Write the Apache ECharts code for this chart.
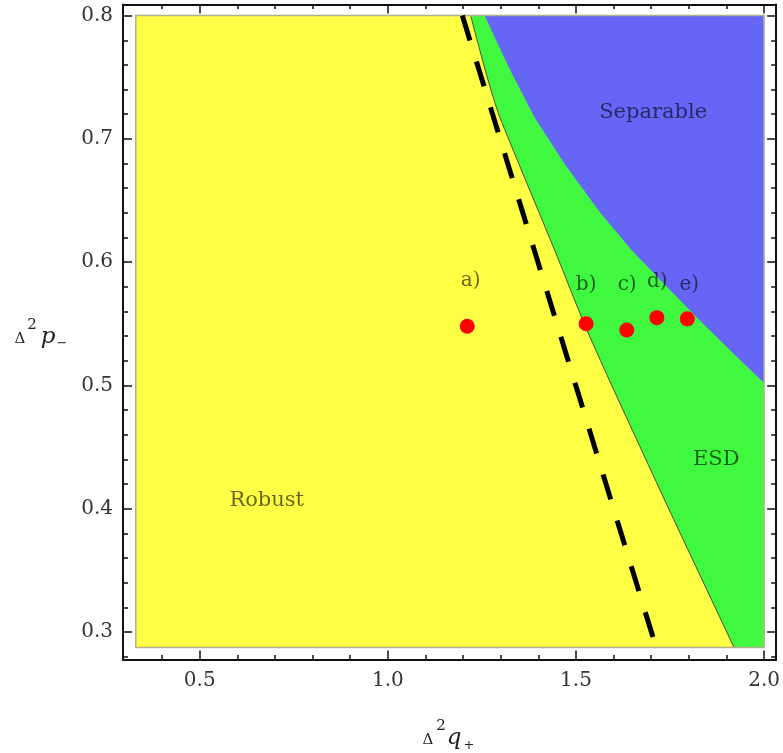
<!DOCTYPE html>
<html>
<head>
<meta charset="utf-8">
<script src="https://cdn.jsdelivr.net/npm/echarts@6/dist/echarts.min.js"></script>
<style>html,body{margin:0;padding:0;background:#fff}#c{width:783px;height:753px}</style>
</head>
<body>
<div id="c"></div>
<script>
// ---- data ----
const regionX = [0.33, 2.0];          // extent of the plotted region (x)
const regionY = [0.2875, 0.8];        // extent of the plotted region (y)
const axisX = [0.296, 2.032];         // frame extent (x)
const axisY = [0.2777, 0.809];        // frame extent (y)

// boundary between Robust (yellow) and ESD (green)
const esdBoundaryX = [1.220, 1.240, 1.265, 1.297, 1.443, 1.522, 1.589, 1.748, 1.920];
const esdBoundaryY = [0.800, 0.777, 0.749, 0.718, 0.610, 0.550, 0.504, 0.399, 0.2875];

// boundary between ESD (green) and Separable (blue)
const sepBoundaryX = [1.257, 1.323, 1.389, 1.469, 1.562, 1.647, 1.735, 1.822, 1.915, 2.000];
const sepBoundaryY = [0.800, 0.757, 0.718, 0.680, 0.641, 0.610, 0.582, 0.555, 0.527, 0.502];

// dashed line
const dashX = [1.198, 1.713];
const dashY = [0.800, 0.2875];

// red points
const pointNames = ['a)', 'b)', 'c)', 'd)', 'e)'];
const pointX = [1.211, 1.527, 1.635, 1.715, 1.796];
const pointY = [0.548, 0.550, 0.545, 0.555, 0.554];
// point label anchors
const pointLabelX = [1.220, 1.527, 1.636, 1.716, 1.801];
const pointLabelY = [0.585, 0.582, 0.5814, 0.5839, 0.5814];

// region labels
const regionNames = ['Separable', 'ESD', 'Robust'];
const regionLabelX = [1.705, 1.873, 0.678];
const regionLabelY = [0.721, 0.4395, 0.407];

// ticks
const xMajor = [0.5, 1.0, 1.5, 2.0];
const xMinor = [0.4, 0.6, 0.7, 0.8, 0.9, 1.1, 1.2, 1.3, 1.4, 1.6, 1.7, 1.8, 1.9];
const yMajor = [0.3, 0.4, 0.5, 0.6, 0.7, 0.8];
const yMinor = [0.28, 0.32, 0.34, 0.36, 0.38, 0.42, 0.44, 0.46, 0.48, 0.52, 0.54, 0.56, 0.58,
                0.62, 0.64, 0.66, 0.68, 0.72, 0.74, 0.76, 0.78];

// ---- build ----
const zip = (xs, ys) => xs.map((x, i) => [x, ys[i]]);
const yellowPoly = [[regionX[0], regionY[0]], [regionX[1], regionY[0]], [regionX[1], regionY[1]], [regionX[0], regionY[1]]];
const greenPoly = zip(esdBoundaryX, esdBoundaryY).concat([[regionX[1], regionY[0]], [regionX[1], regionY[1]]]);
const bluePoly = zip(sepBoundaryX, sepBoundaryY).concat([[regionX[1], regionY[1]]]);

const FONT = '"DejaVu Serif", serif';
const frameColor = '#111';
const labelInk = 'rgba(0,0,0,0.75)';

function polySeries(pts, fill, stroke, z) {
  return {
    type: 'custom', xAxisIndex: 0, yAxisIndex: 0, silent: true, z: z,
    data: [[regionX[0], regionY[0]]],
    renderItem: function (params, api) {
      return {
        type: 'polygon',
        shape: { points: pts.map(p => api.coord(p)) },
        style: stroke ? { fill: fill, stroke: stroke, lineWidth: 1.5 } : { fill: fill }
      };
    }
  };
}

function xAxisDef(pos, values, len, showLine, showLabel) {
  return {
    type: 'value', position: pos, min: axisX[0], max: axisX[1],
    axisLine: { show: showLine, onZero: false, lineStyle: { color: frameColor, width: 2 } },
    axisTick: { show: true, inside: true, length: len, customValues: values, lineStyle: { color: frameColor, width: 1.5 } },
    axisLabel: showLabel ? { show: true, customValues: values, margin: 11, color: '#333', fontFamily: FONT, fontSize: 20,
      formatter: v => Number(v).toFixed(1) } : { show: false },
    splitLine: { show: false }
  };
}
function yAxisDef(pos, values, len, showLine, showLabel) {
  return {
    type: 'value', position: pos, min: axisY[0], max: axisY[1],
    axisLine: { show: showLine, onZero: false, lineStyle: { color: frameColor, width: 2 } },
    axisTick: { show: true, inside: true, length: len, customValues: values, lineStyle: { color: frameColor, width: 1.5 } },
    axisLabel: showLabel ? { show: true, customValues: values, margin: 10, color: '#333', fontFamily: FONT, fontSize: 20,
      formatter: v => Number(v).toFixed(1) } : { show: false },
    splitLine: { show: false }
  };
}

const titleColor = '#222';
function t(text, x, y, size, italic) {
  return { type: 'text', x: x, y: y, silent: true,
    style: { text: text, fill: titleColor, font: (italic ? 'italic ' : '') + size + 'px ' + FONT,
      textAlign: 'center', textVerticalAlign: 'middle' } };
}

const option = {
  animation: false,
  backgroundColor: '#fff',
  grid: { left: 123, right: 6, top: 4.5, bottom: 93.5, containLabel: false },
  xAxis: [
    xAxisDef('bottom', xMajor, 9, true, true),
    xAxisDef('bottom', xMinor, 4.5, false, false),
    xAxisDef('top', xMajor, 9, true, false),
    xAxisDef('top', xMinor, 4.5, false, false)
  ],
  yAxis: [
    yAxisDef('left', yMajor, 9, true, true),
    yAxisDef('left', yMinor, 5, false, false),
    yAxisDef('right', yMajor, 9, true, false),
    yAxisDef('right', yMinor, 5, false, false)
  ],
  series: [
    polySeries(yellowPoly, '#ffff45', null, 1),
    polySeries(greenPoly, '#40f840', null, 2),
    polySeries(bluePoly, '#6565f6', null, 3),
    {
      type: 'line', xAxisIndex: 0, yAxisIndex: 0, z: 4, silent: true, symbol: 'none', smooth: 0.2,
      data: zip(esdBoundaryX, esdBoundaryY),
      lineStyle: { color: '#4a4a30', width: 1 }
    },
    polySeries(yellowPoly, 'none', '#b4b08c', 5),
    {
      type: 'line', xAxisIndex: 0, yAxisIndex: 0, z: 6, silent: true, symbol: 'none',
      data: zip(dashX, dashY),
      lineStyle: { color: '#000', width: 5, type: [26, 22], cap: 'butt' }
    },
    {
      type: 'scatter', xAxisIndex: 0, yAxisIndex: 0, z: 7, silent: true,
      symbolSize: 15,
      itemStyle: { color: '#ff0000', opacity: 1 },
      data: zip(pointX, pointY)
    },
    {
      type: 'scatter', xAxisIndex: 0, yAxisIndex: 0, z: 7, silent: true,
      symbolSize: 0,
      data: pointLabelX.map((x, i) => ({ name: pointNames[i], value: [x, pointLabelY[i]] })),
      label: { show: true, position: 'inside', formatter: p => p.name,
        fontFamily: FONT, fontSize: 20, color: labelInk }
    },
    {
      type: 'scatter', xAxisIndex: 0, yAxisIndex: 0, z: 7, silent: true,
      symbolSize: 0,
      data: regionLabelX.map((x, i) => ({ name: regionNames[i], value: [x, regionLabelY[i]] })),
      label: { show: true, position: 'inside', formatter: p => p.name,
        fontFamily: FONT, fontSize: 21, color: labelInk }
    }
  ],
  graphic: [
    t('Δ', 428, 740, 15, false),
    t('2', 441, 726, 15, false),
    t('q', 454, 738, 23, true),
    t('+', 469, 746, 13, false),
    t('Δ', 20, 339, 15, false),
    t('2', 32, 325, 15, false),
    t('p', 48, 337, 23, true),
    t('−', 62, 344, 13, false)
  ]
};

const chart = echarts.init(document.getElementById('c'), null, { renderer: 'canvas' });
chart.setOption(option);
</script>
</body>
</html>
